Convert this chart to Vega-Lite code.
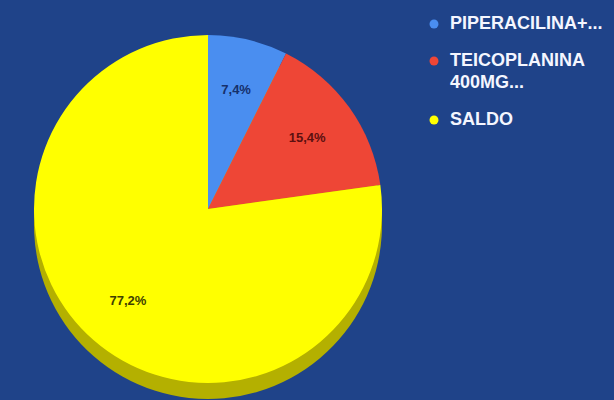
{
  "$schema": "https://vega.github.io/schema/vega-lite/v6.json",
  "width": 416,
  "height": 400,
  "autosize": {"type": "none"},
  "padding": {"left": 0, "top": 0, "right": 198, "bottom": 0},
  "background": "#1f4389",
  "config": {"view": {"stroke": null}, "style": {"guide-label": {"lineHeight": 22}}},
  "data": {"values": [
    {"item": "PIPERACILINA+...", "value": 7.4, "label": "7,4%", "order": 1},
    {"item": "TEICOPLANINA 400MG...", "value": 15.4, "label": "15,4%", "order": 2},
    {"item": "SALDO", "value": 77.2, "label": "77,2%", "order": 3}
  ]},
  "encoding": {
    "theta": {"field": "value", "type": "quantitative", "stack": true},
    "order": {"field": "order", "type": "quantitative"}
  },
  "layer": [
    {"mark": {"type": "arc", "radius": 174, "yOffset": 25, "color": "#b4b000"}},
    {
      "mark": {"type": "arc", "radius": 174, "yOffset": 9},
      "encoding": {
        "color": {
          "field": "item", "type": "nominal",
          "scale": {"domain": ["PIPERACILINA+...", "TEICOPLANINA 400MG...", "SALDO"], "range": ["#4a8ef0", "#ee4636", "#ffff00"]},
          "legend": {
            "orient": "none", "legendX": 425, "legendY": 15, "title": null,
            "symbolType": "circle", "symbolSize": 80, "symbolStrokeWidth": 0,
            "labelColor": "#f4f6ff", "labelFontWeight": "bold", "labelFontSize": 18,
            "labelFont": "Liberation Sans", "labelLimit": 200, "rowPadding": 19,
            "labelOffset": 7,
            "labelExpr": "split(datum.label, ' ')"
          }
        }
      }
    },
    {
      "mark": {"type": "text", "radius": 122, "yOffset": 9, "fontWeight": "bold", "fontSize": 13, "font": "Liberation Sans"},
      "encoding": {
        "text": {"field": "label", "type": "nominal"},
        "color": {
          "field": "item", "type": "nominal",
          "scale": {"domain": ["PIPERACILINA+...", "TEICOPLANINA 400MG...", "SALDO"], "range": ["#16306b", "#5c1010", "#3f3f00"]},
          "legend": null
        }
      }
    }
  ],
  "resolve": {"scale": {"color": "independent"}}
}
